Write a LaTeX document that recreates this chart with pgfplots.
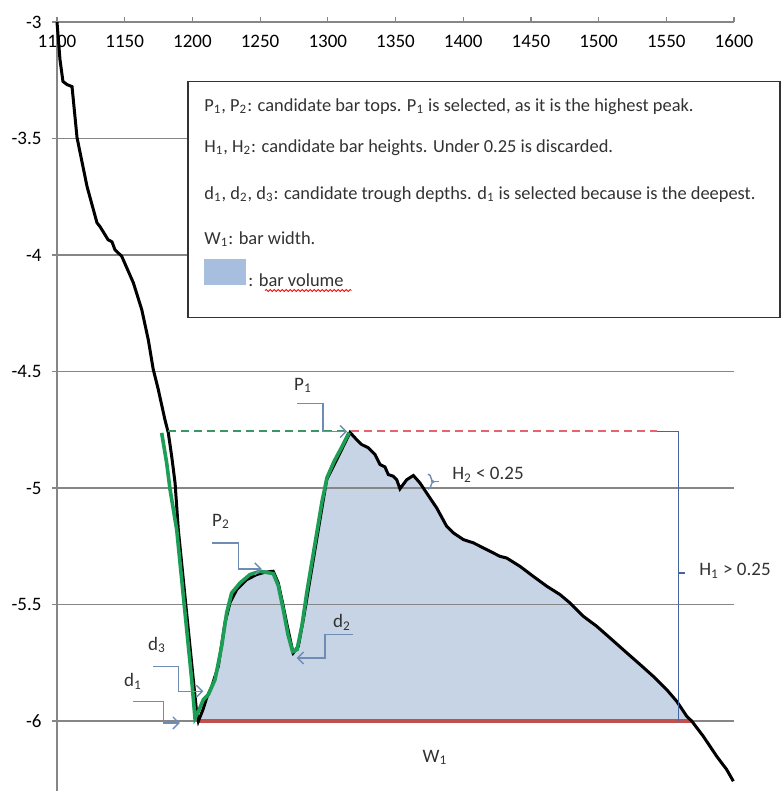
\documentclass[border=0pt]{standalone}
\usepackage{pgfplots}
\pgfplotsset{compat=1.18}
\usepackage{pgfplotstable}
\usepgfplotslibrary{fillbetween}
\usetikzlibrary{arrows.meta,decorations.pathmorphing,decorations.pathreplacing}
\usepackage{fontspec}
\setmainfont{Carlito}

\definecolor{gridgray}{RGB}{134,134,134}
\definecolor{volfill}{RGB}{199,212,230}
\definecolor{swatch}{RGB}{168,190,222}
\definecolor{wred}{RGB}{192,80,77}
\definecolor{fitgreen}{RGB}{28,158,86}
\definecolor{conn}{RGB}{110,140,180}
\definecolor{hblue}{RGB}{70,100,160}
\definecolor{dgreen}{RGB}{60,150,100}
\definecolor{dred}{RGB}{230,100,110}
\definecolor{txt}{RGB}{50,50,50}

% black profile
\pgfplotstableread{
x y
1100.0 -3.000
1102.2 -3.161
1104.4 -3.255
1107.4 -3.268
1111.1 -3.277
1114.8 -3.496
1122.2 -3.706
1129.5 -3.861
1131.8 -3.878
1137.7 -3.934
1140.6 -3.943
1142.8 -3.977
1147.8 -4.005
1156.4 -4.119
1162.6 -4.234
1167.4 -4.363
1171.1 -4.491
1174.8 -4.577
1179.7 -4.706
1182.2 -4.763
1184.7 -4.863
1187.2 -4.978
1189.6 -5.178
1193.3 -5.393
1197.0 -5.608
1200.7 -5.823
1203.2 -5.964
1204.4 -6.000
1207.8 -5.951
1210.6 -5.899
1214.3 -5.851
1219.1 -5.765
1224.1 -5.577
1227.8 -5.491
1232.7 -5.436
1240.1 -5.393
1247.5 -5.371
1253.6 -5.361
1259.7 -5.357
1263.4 -5.407
1267.1 -5.507
1269.6 -5.579
1273.3 -5.679
1274.5 -5.707
1278.2 -5.679
1281.9 -5.564
1285.6 -5.436
1289.3 -5.307
1293.0 -5.178
1296.7 -5.049
1299.2 -4.964
1300.4 -4.949
1306.6 -4.878
1311.4 -4.821
1316.4 -4.761
1321.3 -4.792
1325.0 -4.813
1329.9 -4.827
1334.9 -4.856
1338.6 -4.899
1342.2 -4.909
1344.7 -4.942
1348.4 -4.949
1350.9 -4.964
1353.3 -5.003
1358.3 -4.964
1363.2 -4.946
1368.1 -4.978
1373.0 -5.021
1380.4 -5.085
1387.8 -5.164
1392.7 -5.192
1400.1 -5.221
1407.5 -5.235
1417.4 -5.264
1427.2 -5.293
1432.1 -5.300
1442.0 -5.336
1451.8 -5.379
1461.7 -5.421
1471.5 -5.457
1478.9 -5.493
1488.7 -5.550
1498.6 -5.593
1508.4 -5.643
1520.8 -5.707
1530.6 -5.757
1540.4 -5.808
1550.3 -5.865
1557.7 -5.915
1565.1 -5.979
1568.8 -6.000
1577.3 -6.065
1587.2 -6.151
1594.6 -6.208
1599.5 -6.258
}\profile

% green fitted trace
\pgfplotstableread{
x y
1177.3 -4.763
1181.0 -4.892
1183.5 -5.006
1188.4 -5.178
1192.1 -5.393
1195.8 -5.608
1199.5 -5.823
1201.9 -5.987
1204.4 -5.959
1208.1 -5.908
1211.8 -5.886
1216.7 -5.822
1221.6 -5.679
1225.3 -5.536
1229.0 -5.450
1235.2 -5.407
1242.5 -5.371
1249.9 -5.357
1255.8 -5.363
1259.7 -5.367
1263.4 -5.418
1267.1 -5.521
1270.6 -5.629
1274.0 -5.702
1277.3 -5.693
1281.0 -5.586
1284.6 -5.444
1288.3 -5.316
1292.0 -5.187
1295.7 -5.058
1299.4 -4.955
1304.6 -4.886
1310.5 -4.822
1315.7 -4.762
}\fit

\begin{document}
\begin{tikzpicture}[font=\fontsize{9.5}{11}\selectfont, color=txt]
\begin{axis}[
    name=ax,
    set layers,
    scale only axis,
    width=338.5pt, height=384.45pt,
    xmin=1100, xmax=1600, ymin=-6.3, ymax=-3,
    axis x line*=top, axis y line*=left,
    axis line style={gridgray, line width=0.6pt},
    xtick={1100,1150,...,1600},
    ytick={-6,-5.5,-5,-4.5,-4,-3.5,-3},
    tick align=outside,
    major tick length=2.5pt,
    tick style={gridgray, line width=0.6pt},
    ymajorgrids,
    grid style={gridgray, line width=0.6pt},
    /pgf/number format/assume math mode=true,
    /pgf/number format/fixed,
    /pgf/number format/1000 sep={},
    xticklabel style={anchor=north, yshift=-5.5pt, text=black},
    yticklabel style={xshift=-1.7pt, text=black},
    clip=false,
    fill between/on layer=axis background,
]
\addplot[name path=prof, draw=none, forget plot] table {\profile};
\addplot[name path=base, draw=none, forget plot] coordinates {(1204.4,-6) (1568.8,-6)};
\addplot[volfill, forget plot] fill between[of=prof and base, soft clip={domain=1204.4:1568.8}];

% bar width line
\addplot[wred, line width=2pt] coordinates {(1204.4,-6) (1568.8,-6)};
% profile and fitted trace
\addplot[black, line width=1.5pt] table {\profile};
\addplot[fitgreen, line width=1.8pt] table {\fit};
% peak level
\addplot[dgreen, line width=1pt, dash pattern=on 4pt off 2.5pt] coordinates {(1182,-4.757) (1314.2,-4.757)};
\addplot[dred, line width=1pt, dash pattern=on 4pt off 2.5pt] coordinates {(1317,-4.757) (1543,-4.757)};

% H1 bracket
\draw[hblue, line width=0.6pt] (1543,-4.757) -- (1558.9,-4.757) -- (1558.9,-6);
\draw[hblue, line width=0.6pt] (1558.9,-5.364) -- (1563.9,-5.364);
\node[anchor=base west, inner sep=0pt] at (1574.1,-5.376) {H\textsubscript{1} > 0.25};

% H2 brace
\draw[conn, line width=0.7pt, decorate, decoration={brace, amplitude=3pt}] (1374,-4.940) -- (1374,-5.005);
\draw[conn, line width=0.7pt] (1376.3,-4.9725) -- (1382,-4.9725);
\node[anchor=base west, inner sep=0pt] at (1391.7,-4.964) {H\textsubscript{2} < 0.25};

% elbow arrows
\tikzset{elb/.style={conn, line width=0.7pt, -{Straight Barb[length=3pt, width=6pt]}}}
\draw[elb] (1277.3,-4.637) -- (1296.5,-4.637) -- (1296.5,-4.757) -- (1314.2,-4.757);
\node at (1281.7,-4.56) {P\textsubscript{1}};
\draw[elb] (1214.3,-5.235) -- (1233.9,-5.235) -- (1233.9,-5.347) -- (1251.2,-5.347);
\node at (1221.1,-5.144) {P\textsubscript{2}};
\draw[elb] (1171.1,-5.765) -- (1189.6,-5.765) -- (1189.6,-5.872) -- (1208.1,-5.872);
\node at (1173.9,-5.672) {d\textsubscript{3}};
\draw[elb] (1156.4,-5.915) -- (1178.5,-5.915) -- (1178.5,-6.008) -- (1190.8,-6.008);
\node at (1156.1,-5.830) {d\textsubscript{1}};
\draw[elb] (1318.8,-5.629) -- (1297.9,-5.629) -- (1297.9,-5.729) -- (1277.0,-5.729);
\node at (1310.5,-5.577) {d\textsubscript{2}};
\node at (1379.2,-6.157) {W\textsubscript{1}};

% explanation box
\draw[fill=white, line width=0.8pt, draw=black!80] (1196.8,-3.255) rectangle (1634,-4.268);
\begin{scope}[font=\fontsize{9.2}{11}\selectfont]
\node[anchor=base west, inner sep=0pt] at (1208.6,-3.383) {P\textsubscript{1}, P\textsubscript{2}: candidate bar tops. P\textsubscript{1} is selected, as it is the highest peak.};
\node[anchor=base west, inner sep=0pt] at (1208.6,-3.559) {H\textsubscript{1}, H\textsubscript{2}: candidate bar heights. Under 0.25 is discarded.};
\node[anchor=base west, inner sep=0pt] at (1208.6,-3.762) {d\textsubscript{1}, d\textsubscript{2}, d\textsubscript{3}: candidate trough depths. d\textsubscript{1} is selected because is the deepest.};
\node[anchor=base west, inner sep=0pt] at (1208.6,-3.955) {W\textsubscript{1}: bar width.};
\fill[swatch] (1208.6,-4.015) rectangle (1239.6,-4.127);
\node[anchor=base west, inner sep=0pt] at (1241.1,-4.135) {: bar volume};
\draw[red, line width=0.4pt, decorate, decoration={snake, amplitude=0.5pt, segment length=2pt}] (1253.6,-4.152) -- (1317.5,-4.152);
\end{scope}
\end{axis}
\pgfresetboundingbox
\path[use as bounding box] ([xshift=-28.5pt]ax.south west) rectangle ([xshift=362.5pt,yshift=395.5pt]ax.south west);
\end{tikzpicture}
\end{document}
